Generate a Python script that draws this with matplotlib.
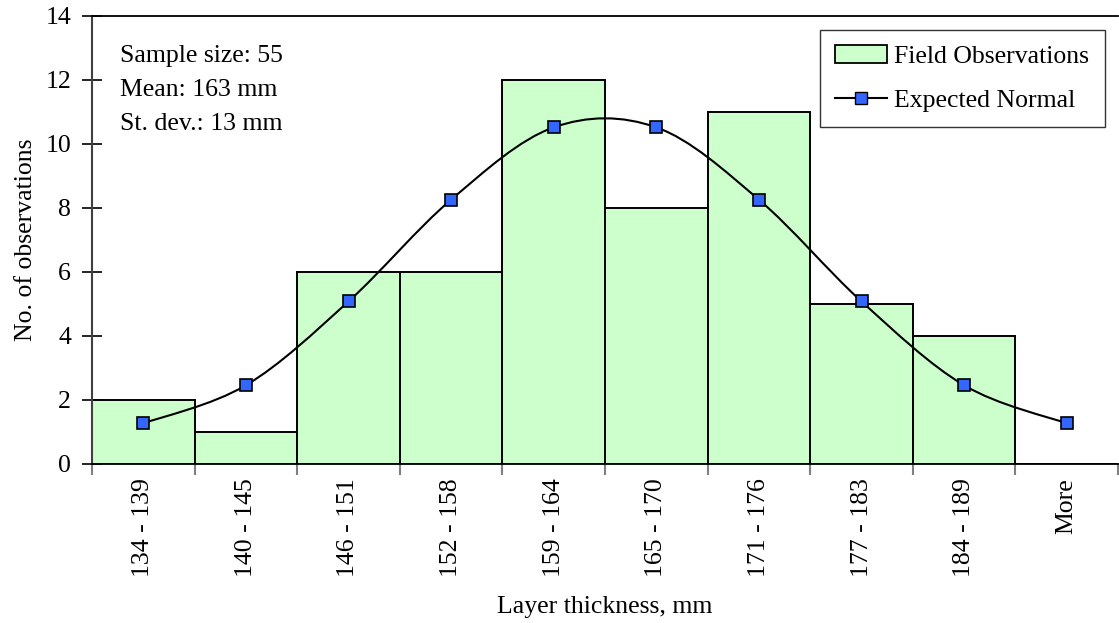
import numpy as np
import matplotlib
matplotlib.use("Agg")
import matplotlib.pyplot as plt
from matplotlib.path import Path
from matplotlib.patches import PathPatch
from matplotlib.lines import Line2D
from matplotlib.patches import Patch

plt.rcParams["font.family"] = ["Liberation Serif", "DejaVu Serif"]

categories = ["134 - 139", "140 - 145", "146 - 151", "152 - 158", "159 - 164",
              "165 - 170", "171 - 176", "177 - 183", "184 - 189", "More"]
observed = [2, 1, 6, 6, 12, 8, 11, 5, 4, 0]
expected = [1.27, 2.46, 5.08, 8.26, 10.52, 10.52, 8.26, 5.08, 2.46, 1.27]
stats_lines = ["Sample size: 55", "Mean: 163 mm", "St. dev.: 13 mm"]

FS = 18.5


def smooth_path(x, y):
    # Excel-style smoothed line: cubic bezier segments (Catmull-Rom tangents)
    x = np.asarray(x, float)
    y = np.asarray(y, float)
    n = len(x)
    verts = [(x[0], y[0])]
    codes = [Path.MOVETO]
    for i in range(n - 1):
        p0 = np.array([x[max(i - 1, 0)], y[max(i - 1, 0)]])
        p1 = np.array([x[i], y[i]])
        p2 = np.array([x[i + 1], y[i + 1]])
        p3 = np.array([x[min(i + 2, n - 1)], y[min(i + 2, n - 1)]])
        c1 = p1 + (p2 - p0) / 6.0
        c2 = p2 - (p3 - p1) / 6.0
        verts += [tuple(c1), tuple(c2), tuple(p2)]
        codes += [Path.CURVE4] * 3
    return Path(verts, codes)


fig = plt.figure(figsize=(11.19, 6.23), dpi=100)
ax = fig.add_axes([92 / 1119, 1 - 464 / 623, 1026 / 1119, 448 / 623])

x = np.arange(len(categories))
ax.bar(x, observed, width=1.0, color="#ccffcc", edgecolor="black", linewidth=1.4, zorder=2)

curve = PathPatch(smooth_path(x, expected), facecolor="none", edgecolor="black",
                  linewidth=1.5, zorder=3)
ax.add_patch(curve)
ax.plot(x, expected, linestyle="none", marker="s", markersize=8.5,
        markerfacecolor="#3366ff", markeredgecolor="black", markeredgewidth=1.2, zorder=4)

ax.set_xlim(-0.5, 9.5)
ax.set_ylim(0, 14)
ax.set_yticks(np.arange(0, 15, 2))
ax.set_xticks(x)
ax.set_xticklabels(categories, rotation=90, fontsize=FS)
ax.set_xticks(np.arange(-0.5, 9.6, 1.0), minor=True)
ax.tick_params(axis="x", which="major", length=0, pad=10)
ax.tick_params(axis="x", which="minor", length=8, width=1.5, color="#808080", direction="out")
ax.tick_params(axis="y", labelsize=FS, length=14, width=1.2, direction="inout", pad=8)

ax.spines["right"].set_visible(False)
ax.spines["left"].set_color("#404040")
ax.spines["left"].set_linewidth(1.5)
ax.spines["bottom"].set_linewidth(1.3)
ax.spines["top"].set_linewidth(1.3)

ax.set_xlabel("Layer thickness, mm", fontsize=FS, labelpad=14)
ax.set_ylabel("No. of observations", fontsize=FS, labelpad=6)

for i, line in enumerate(stats_lines):
    ax.text(0.027, 0.91 - i * 0.076, line, transform=ax.transAxes, fontsize=FS,
            va="center", ha="left")

handles = [Patch(facecolor="#ccffcc", edgecolor="black", linewidth=1.3),
           Line2D([0], [0], color="black", linewidth=1.5, marker="s", markersize=8.5,
                  markerfacecolor="#3366ff", markeredgecolor="black")]
leg = ax.legend(handles, ["Field Observations", "Expected Normal"], loc="upper right",
                bbox_to_anchor=(0.987, 0.969), fontsize=FS, frameon=True, fancybox=False,
                edgecolor="black", handlelength=2.0, borderpad=0.6, labelspacing=0.8,
                handletextpad=0.3, borderaxespad=0)
leg.get_frame().set_linewidth(1.0)

fig.savefig("out.png", dpi=100)
